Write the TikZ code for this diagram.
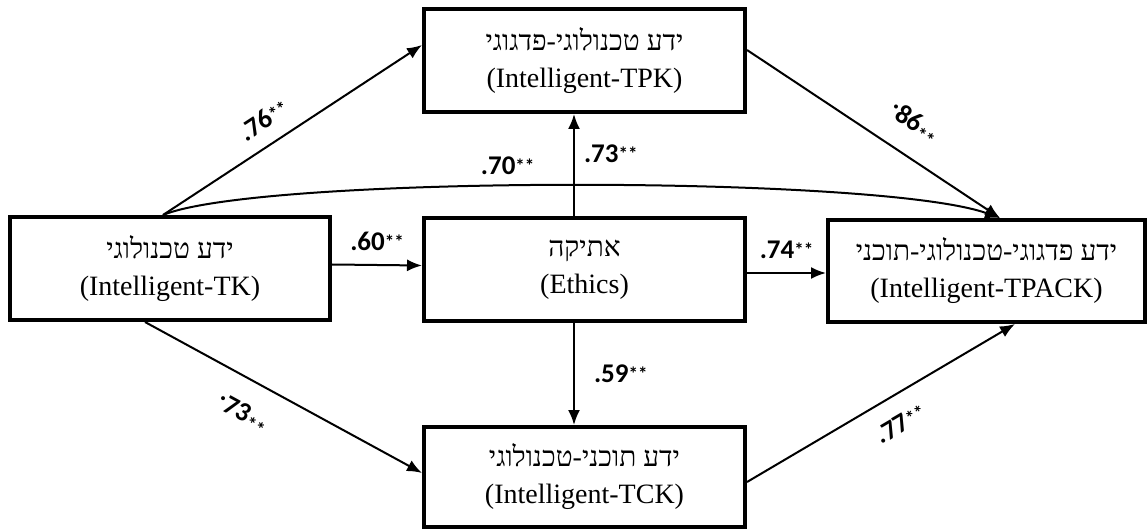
\documentclass[tikz,border=0pt]{standalone}
\usepackage{fontspec}
\setmainfont{Liberation Serif}
\newfontfamily\hebfont[Script=Hebrew]{Liberation Serif}
\newfontfamily\numfont{Carlito}
\TeXXeTstate=1
\usetikzlibrary{positioning,arrows.meta}
\tikzset{
  caja/.style={draw, line width=4pt, align=center, inner sep=0pt, minimum height=103pt, font=\fontsize{28}{37}\selectfont},
  flecha/.style={draw, line width=2pt, -{Latex[length=15pt,width=12pt]}},
  coef/.style={font=\numfont\bfseries\fontsize{27}{27}\selectfont, inner sep=0pt},
}

\begin{document}
\begin{tikzpicture}[x=1pt, y=-1pt]
  \useasboundingbox (0,0) rectangle (1148,529);
  % cajas
  \node[caja, minimum width=320pt] (tk) at (170,268.5) {\hebfont\beginR ידע טכנולוגי\endR\\(Intelligent-TK)};
  \node[caja, minimum width=321pt] (tpk) at (584.5,60.5) {\hebfont\beginR ידע טכנולוגי-פדגוגי\endR\\(Intelligent-TPK)};
  \node[caja, minimum width=321pt] (etica) at (584.5,269.5) {\hebfont\beginR אתיקה\endR\\(Ethics)};
  \node[caja, minimum width=321pt, minimum height=100pt] (tck) at (584.5,477) {\hebfont\beginR ידע תוכני-טכנולוגי\endR\\(Intelligent-TCK)};
  \node[caja, minimum width=317pt, minimum height=102pt] (tpack) at (986.5,271) {\hebfont\beginR ידע פדגוגי-טכנולוגי-תוכני\endR\\(Intelligent-TPACK)};
  % flechas
  \coordinate (salida) at ([xshift=-7pt]tk.north);
  \coordinate (llegada) at ([xshift=13.5pt]tpack.north);
  \coordinate (e1) at ([yshift=-3.5pt]etica.east);
  \draw[flecha] (salida) -- ([yshift=15.5pt]tpk.west)
    node[coef, sloped, pos=0.44, above=14pt] (c76) {.76\raisebox{2pt}{\fontsize{19}{19}\selectfont**}};
  \draw[flecha] (salida) .. controls (260,175) and (880,175) .. (llegada)
    node[coef, pos=0.44, above=10pt] (c70) {.70\raisebox{2pt}{\fontsize{19}{19}\selectfont**}};
  \draw[flecha] ([yshift=4pt]tk.east) -- ([yshift=4pt]etica.west)
    node[coef, pos=0.5, above=13pt] (c60) {.60\raisebox{2pt}{\fontsize{19}{19}\selectfont**}};
  \draw[flecha] ([xshift=-10.5pt]etica.north) -- ([xshift=-10.5pt]tpk.south)
    node[coef, pos=0.61, right=9pt] (c73a) {.73\raisebox{2pt}{\fontsize{19}{19}\selectfont**}};
  \draw[flecha] ([xshift=-10.5pt]etica.south) -- ([xshift=-10.5pt]tck.north)
    node[coef, pos=0.5, right=19pt] (c59) {.59\raisebox{2pt}{\fontsize{19}{19}\selectfont**}};
  \draw[flecha] (e1) -- (e1 -| tpack.west)
    node[coef, pos=0.5, above=13pt] (c74) {.74\raisebox{2pt}{\fontsize{19}{19}\selectfont**}};
  \draw[flecha] ([yshift=10.5pt]tpk.east) -- (llegada)
    node[coef, sloped, pos=0.59, above=18pt] (c86) {\raisebox{9pt}{.}86\raisebox{-5pt}{\fontsize{19}{19}\selectfont**}};
  \draw[flecha] ([xshift=-25pt]tk.south) -- ([yshift=4pt]tck.west)
    node[coef, sloped, pos=0.41, below=22pt] (c73b) {\raisebox{9pt}{.}73\raisebox{-5pt}{\fontsize{19}{19}\selectfont**}};
  \draw[flecha] ([yshift=-5pt]tck.east) -- ([xshift=28.5pt]tpack.south)
    node[coef, sloped, pos=0.52, below=18pt] (c77) {.77\raisebox{2pt}{\fontsize{19}{19}\selectfont**}};
\end{tikzpicture}
\end{document}
